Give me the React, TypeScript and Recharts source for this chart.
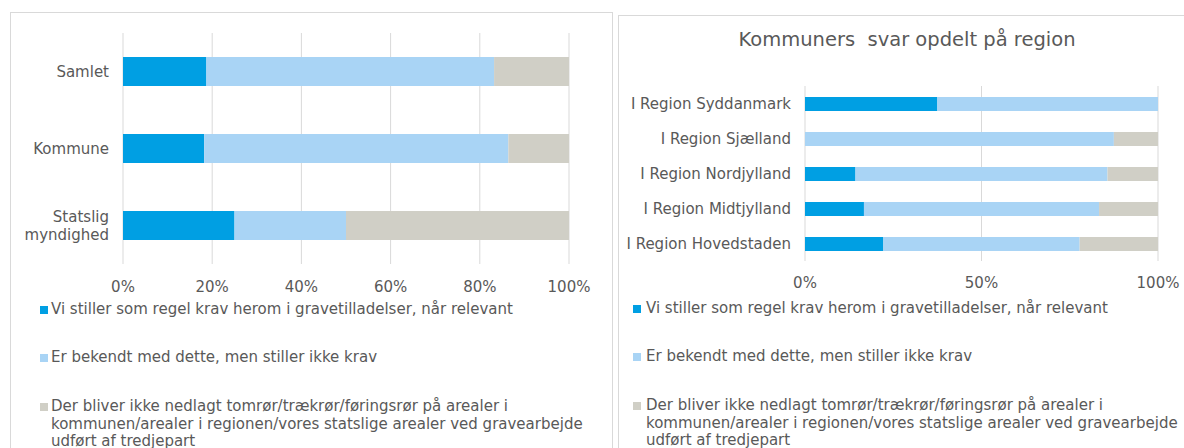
import { BarChart, Bar, XAxis, YAxis, CartesianGrid } from 'recharts';

const seriesNames = [
  'Vi stiller som regel krav herom i gravetilladelser, når relevant',
  'Er bekendt med dette, men stiller ikke krav',
  'Der bliver ikke nedlagt tomrør/trækrør/føringsrør på arealer i\nkommunen/arealer i regionen/vores statslige arealer ved gravearbejde\nudført af tredjepart',
];
const seriesColors = ['#009FE3', '#A9D4F5', '#D0CFC6'];

const leftCategories = ['Samlet', 'Kommune', 'Statslig myndighed'];
const leftKrav = [18.7, 18.2, 25];
const leftBekendt = [64.5, 68.2, 25];
const leftIkke = [16.8, 13.6, 50];
const leftTicks = [0, 20, 40, 60, 80, 100];

const rightTitle = 'Kommuners  svar opdelt på region';
const rightCategories = [
  'I Region Syddanmark',
  'I Region Sjælland',
  'I Region Nordjylland',
  'I Region Midtjylland',
  'I Region Hovedstaden',
];
const rightKrav = [37.5, 0, 14.3, 16.7, 22.2];
const rightBekendt = [62.5, 87.5, 71.4, 66.6, 55.6];
const rightIkke = [0, 12.5, 14.3, 16.7, 22.2];
const rightTicks = [0, 50, 100];

const FONT = '"DejaVu Sans", Verdana, sans-serif';
const TEXT = '#595959';
const GRID = '#d9d9d9';

const leftData = leftCategories.map((name, i) => ({
  name,
  krav: leftKrav[i],
  bekendt: leftBekendt[i],
  ikke: leftIkke[i],
}));

const rightData = rightCategories.map((name, i) => ({
  name,
  krav: rightKrav[i],
  bekendt: rightBekendt[i],
  ikke: rightIkke[i],
}));

const CategoryTick = (props: any) => {
  const { x, y, payload, fontSize, wrap } = props;
  const text: string = payload.value;
  const lines = wrap && text.length > 12 ? text.split(' ') : [text];
  const lh = fontSize * 1.2;
  const start = -((lines.length - 1) * lh) / 2;
  return (
    <text
      x={x}
      y={y}
      textAnchor="end"
      fill={TEXT}
      fontSize={fontSize}
      fontFamily={FONT}
    >
      {lines.map((l, i) => (
        <tspan key={i} x={x} dy={i === 0 ? start + fontSize * 0.35 : lh}>
          {l}
        </tspan>
      ))}
    </text>
  );
};

const ChartLegend = ({ markerLeft, textLeft, tops, fontSize }: any) => (
  <div style={{ fontFamily: FONT, fontSize, color: TEXT }}>
    {seriesNames.map((name, i) => (
      <div
        key={name}
        style={{ position: 'absolute', left: markerLeft, top: tops[i], lineHeight: '17.5px' }}
      >
        <div
          style={{
            position: 'absolute',
            left: 0,
            top: 5,
            width: 8,
            height: 8,
            background: seriesColors[i],
          }}
        />
        <div style={{ position: 'absolute', left: textLeft - markerLeft, top: 0, whiteSpace: 'pre' }}>
          {name}
        </div>
      </div>
    ))}
  </div>
);

const App = () => {
  const keys = ['krav', 'bekendt', 'ikke'];
  return (
    <div
      style={{
        position: 'absolute',
        left: 0,
        top: 0,
        width: 1184,
        height: 448,
        background: '#fff',
        overflow: 'hidden',
      }}
    >
      {/* left panel */}
      <div
        style={{
          position: 'absolute',
          left: 10,
          top: 12,
          width: 603,
          height: 460,
          border: `1px solid ${GRID}`,
          boxSizing: 'border-box',
        }}
      >
        <BarChart
          width={603}
          height={300}
          data={leftData}
          layout="vertical"
          margin={{ top: 20, right: 45, left: 12, bottom: 19 }}
        >
          <CartesianGrid horizontal={false} stroke={GRID} />
          <XAxis
            type="number"
            domain={[0, 100]}
            ticks={leftTicks}
            tickFormatter={(v) => `${v}%`}
            axisLine={false}
            tickLine={false}
            tickMargin={11}
            height={30}
            tick={{ fill: TEXT, fontSize: 15, fontFamily: FONT }}
          />
          <YAxis
            type="category"
            dataKey="name"
            width={100}
            axisLine={false}
            tickLine={false}
            tickMargin={8}
            tick={<CategoryTick fontSize={15} wrap />}
          />
          {keys.map((k, i) => (
            <Bar
              key={k}
              dataKey={k}
              stackId="a"
              fill={seriesColors[i]}
              barSize={29}
              isAnimationActive={false}
            />
          ))}
        </BarChart>
        <ChartLegend markerLeft={29} textLeft={40} tops={[288, 336, 385]} fontSize={15} />
      </div>

      {/* right panel */}
      <div
        style={{
          position: 'absolute',
          left: 618,
          top: 15,
          width: 580,
          height: 460,
          border: `1px solid ${GRID}`,
          boxSizing: 'border-box',
        }}
      >
        <div
          style={{
            position: 'absolute',
            left: 288,
            top: 12,
            transform: 'translateX(-50%)',
            fontFamily: FONT,
            fontSize: 19.5,
            color: TEXT,
            whiteSpace: 'pre',
          }}
        >
          {rightTitle}
        </div>
        <BarChart
          width={578}
          height={295}
          data={rightData}
          layout="vertical"
          margin={{ top: 70, right: 39, left: 11, bottom: 20 }}
        >
          <CartesianGrid horizontal={false} stroke={GRID} />
          <XAxis
            type="number"
            domain={[0, 100]}
            ticks={rightTicks}
            tickFormatter={(v) => `${v}%`}
            axisLine={false}
            tickLine={false}
            tickMargin={10}
            height={30}
            tick={{ fill: TEXT, fontSize: 15, fontFamily: FONT }}
          />
          <YAxis
            type="category"
            dataKey="name"
            width={175}
            axisLine={false}
            tickLine={false}
            tickMargin={8}
            tick={<CategoryTick fontSize={15} />}
          />
          {keys.map((k, i) => (
            <Bar
              key={k}
              dataKey={k}
              stackId="a"
              fill={seriesColors[i]}
              barSize={14}
              isAnimationActive={false}
            />
          ))}
        </BarChart>
        <ChartLegend markerLeft={14} textLeft={27} tops={[284, 332, 381]} fontSize={15} />
      </div>
    </div>
  );
};

export default App;
